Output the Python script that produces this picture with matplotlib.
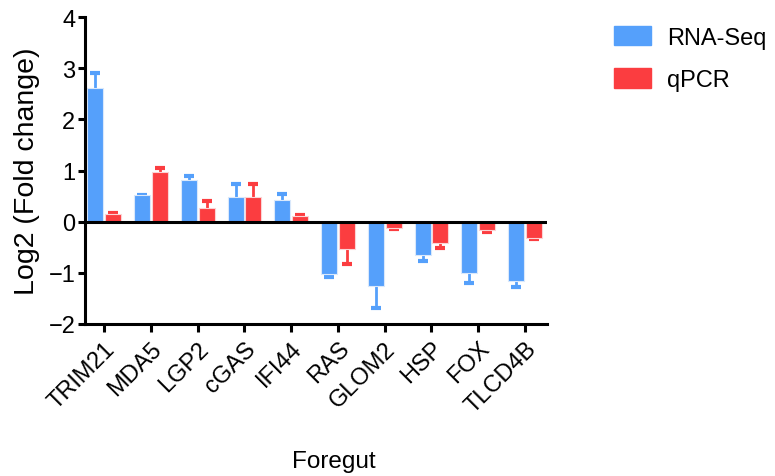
import matplotlib
matplotlib.use("Agg")
import matplotlib.pyplot as plt
import numpy as np
from matplotlib.patches import Patch

plt.rcParams['font.family'] = ['Liberation Sans', 'DejaVu Sans']

categories = ["TRIM21", "MDA5", "LGP2", "cGAS", "IFI44", "RAS", "GLOM2", "HSP", "FOX", "TLCD4B"]
rnaseq = [2.61, 0.52, 0.82, 0.48, 0.43, -1.02, -1.25, -0.66, -1.00, -1.15]
rnaseq_err = [0.30, 0.01, 0.07, 0.26, 0.11, 0.07, 0.44, 0.11, 0.19, 0.12]
qpcr = [0.16, 0.97, 0.27, 0.48, 0.11, -0.53, -0.12, -0.42, -0.16, -0.31]
qpcr_err = [0.01, 0.08, 0.13, 0.26, 0.02, 0.30, 0.02, 0.09, 0.04, 0.03]

blue = "#55A0FB"
red = "#FB3D40"

fig = plt.figure(figsize=(7.75, 4.77), dpi=100)
ax = fig.add_axes([0.1097, 0.3187, 0.596, 0.6433])

x = np.arange(len(categories))
w = 0.34
off = 0.19

def draw(vals, errs, pos, color, edge):
    v = np.array(vals); e = np.array(errs)
    ax.bar(pos, v, width=w, color=color, edgecolor=edge, linewidth=0.8, zorder=2)
    lower = np.where(v < 0, e, 0)
    upper = np.where(v >= 0, e, 0)
    ax.errorbar(pos, v, yerr=[lower, upper], fmt="none", ecolor=color, elinewidth=2,
                capsize=0, zorder=1)
    ends = v + np.sign(v) * e
    ax.plot(pos, ends, ls="none", marker="_", markersize=7, mew=3, color=color, zorder=1)

draw(rnaseq, rnaseq_err, x - off, blue, "#d9e8fb")
draw(qpcr, qpcr_err, x + off, red, "#fbd3d4")

ax.axhline(0, color="black", lw=2.2, zorder=3)
ax.set_xlim(-0.41, 9.47)
ax.set_ylim(-2, 4)
ax.set_yticks([-2, -1, 0, 1, 2, 3, 4])
ax.set_xticks(x)
ax.set_xticklabels(categories, rotation=45, ha="right", va="top", rotation_mode="anchor", fontsize=17)
ax.tick_params(axis="y", labelsize=17, width=2.2, length=5, pad=2)
ax.tick_params(axis="x", width=2.2, length=5.5, pad=4)
for s in ["top", "right"]:
    ax.spines[s].set_visible(False)
for s in ["left", "bottom"]:
    ax.spines[s].set_linewidth(2.2)
ax.set_ylabel("Log2 (Fold change)", fontsize=20.5, labelpad=6)
fig.text(334 / 775, 1 - 468 / 477, "Foregut", fontsize=17.5, ha="center", va="baseline")

handles = [Patch(color=blue, label="RNA-Seq"), Patch(color=red, label="qPCR")]
fig.legend(handles=handles, loc="upper left", bbox_to_anchor=(614 / 775, 1 - 27 / 477), frameon=False,
           fontsize=17, handlelength=1.57, handleheight=0.89, labelspacing=0.82, handletextpad=0.68,
           borderpad=0, borderaxespad=0)

fig.savefig("out.png", dpi=100)
